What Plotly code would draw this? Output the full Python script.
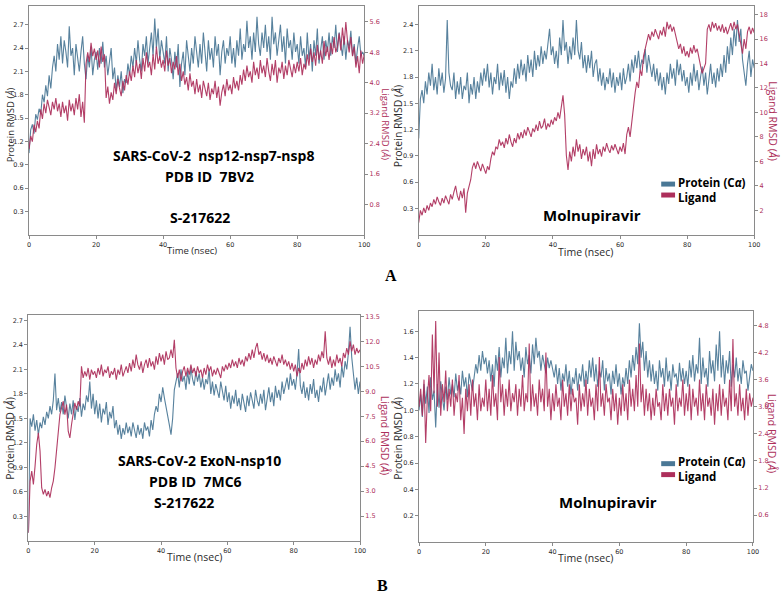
import numpy as np
import plotly.graph_objects as go

# ---------------- data (RMSD traces, 0.5 ns steps) ----------------
p1_protein = [
 1.05,1.35,1.42,1.30,1.55,1.48,1.62,1.55,1.80,1.70,1.92,1.78,2.05,1.88,2.15,2.30,2.10,2.45,2.25,2.55,
 2.20,2.50,2.35,2.15,2.68,2.30,2.40,2.05,2.45,2.25,2.10,2.35,2.55,2.20,2.00,2.30,2.15,2.42,2.05,2.25,
 2.35,2.12,2.40,2.20,2.48,2.15,2.30,2.05,2.25,2.40,2.00,2.15,1.85,2.05,1.90,2.10,1.82,2.00,1.95,2.20,
 2.05,2.30,2.15,2.40,2.20,2.50,2.25,2.10,2.45,2.30,2.55,2.20,2.40,2.60,2.30,2.78,2.40,2.65,2.25,2.50,
 2.35,2.20,2.55,2.10,2.40,2.25,2.00,2.35,2.15,2.45,1.90,2.20,2.35,2.05,2.50,2.25,2.10,2.40,2.20,2.55,
 2.30,2.15,2.45,2.20,2.60,2.35,2.10,2.50,2.25,2.40,2.15,2.55,2.30,2.45,2.05,2.35,2.50,2.20,2.40,2.30,
 2.55,2.20,2.40,2.15,2.50,2.30,2.65,2.25,2.45,2.35,2.75,2.40,2.55,2.25,2.60,2.35,2.80,2.45,2.30,2.60,
 2.40,2.70,2.35,2.55,2.25,2.80,2.45,2.60,2.30,2.50,2.70,2.35,2.55,2.20,2.65,2.40,2.50,2.25,2.60,2.35,
 2.45,2.20,2.55,2.30,2.40,2.15,2.60,2.25,2.45,2.10,2.50,2.30,2.65,2.20,2.40,2.55,2.25,2.50,2.35,2.60,
 2.30,2.55,2.40,2.70,2.35,2.60,2.45,2.30,2.55,2.25,2.50,2.40,2.62,2.30,2.45,2.20,2.40,2.55,2.30,2.35,
 2.30]
p1_ligand = [
 2.25,2.60,2.45,2.90,2.70,3.00,2.80,3.30,3.05,3.45,3.20,3.55,3.35,3.15,3.50,3.30,3.60,3.25,3.45,3.10,
 3.50,3.20,3.40,3.00,3.55,3.25,3.45,3.15,3.60,3.30,3.70,3.10,3.50,2.95,4.50,4.80,4.55,5.05,4.70,4.90,
 4.60,4.85,4.40,4.95,4.55,4.75,3.60,3.90,3.45,3.75,3.55,4.00,3.70,4.10,3.85,3.65,4.05,3.80,4.20,3.95,
 4.30,4.05,4.45,4.15,4.60,4.25,4.50,4.10,4.65,4.30,4.80,4.40,4.55,4.20,4.75,4.35,4.95,4.50,4.70,4.40,
 4.60,4.30,4.85,4.45,4.65,4.25,4.55,4.35,4.70,4.20,4.50,4.05,4.30,3.95,4.15,3.80,4.25,3.90,4.05,3.70,
 4.10,3.75,3.95,3.60,4.05,3.80,3.65,4.00,3.55,3.85,3.70,4.05,3.60,3.90,3.40,3.75,3.95,3.65,4.10,3.80,
 3.95,3.70,4.15,3.85,4.05,3.80,4.20,3.95,4.35,4.05,4.45,4.15,4.30,4.00,4.55,4.20,4.40,4.10,4.60,4.25,
 4.45,4.15,4.65,4.30,4.05,4.50,4.20,4.60,4.00,4.40,4.25,4.55,4.10,4.45,4.20,4.60,4.35,4.15,4.50,4.25,
 4.55,4.30,4.65,4.20,4.50,4.35,4.75,4.45,4.90,4.55,4.80,4.45,5.00,4.60,4.85,4.50,5.10,4.70,4.95,4.60,
 5.05,4.75,5.20,4.80,4.95,5.30,4.85,5.45,5.00,5.60,5.10,4.80,5.20,4.70,4.95,4.40,4.70,4.25,4.85,4.50,
 4.75]
p2_protein = [
 1.10,1.55,1.65,1.50,1.75,1.60,1.85,1.70,1.95,1.65,1.80,1.60,1.90,1.70,1.85,1.62,1.78,2.45,1.85,1.70,
 1.65,1.85,1.55,1.75,1.60,1.80,1.55,1.70,1.65,1.85,1.50,1.72,1.60,1.80,1.55,1.75,1.62,1.85,1.70,1.90,
 1.75,1.95,1.68,1.85,1.60,1.80,1.72,1.95,1.65,1.85,1.70,1.88,1.62,1.80,1.55,1.75,1.68,1.90,1.72,1.95,
 1.78,2.00,1.82,1.95,1.75,2.05,1.85,2.00,1.80,2.10,1.88,2.05,1.92,2.15,1.95,2.10,2.00,2.20,2.35,2.05,
 2.15,1.95,2.10,1.90,2.25,2.05,2.45,2.10,2.20,1.95,2.15,2.00,2.25,2.05,2.45,2.10,2.00,2.20,1.90,2.05,
 1.85,2.05,1.90,2.10,1.80,1.95,2.00,1.75,1.90,1.70,1.85,1.65,1.80,1.72,1.90,1.68,1.85,1.62,1.80,1.70,
 1.85,1.65,1.90,1.72,1.80,1.95,1.75,2.00,1.85,2.05,1.90,2.10,1.88,2.00,1.95,2.12,1.85,2.05,1.90,1.80,
 1.95,1.75,1.90,1.70,1.85,1.65,1.80,1.60,1.85,1.72,1.95,1.78,1.90,1.70,2.00,1.82,1.95,1.75,1.88,1.70,
 1.80,1.62,1.85,1.70,1.95,1.75,1.88,1.65,1.80,1.92,1.70,1.85,1.60,1.78,1.95,1.72,1.85,1.68,1.90,1.75,
 1.95,1.80,2.05,1.85,2.15,1.95,2.25,2.05,2.35,2.15,2.45,2.20,2.35,2.00,1.85,1.70,1.95,2.10,1.80,2.00,
 1.90]
p2_ligand = [
 1.0,2.0,1.6,2.2,1.8,2.4,2.0,2.6,2.3,2.9,2.5,3.1,2.7,2.4,3.0,2.6,3.2,2.8,2.5,3.3,
 2.9,3.5,4.0,3.2,2.8,3.6,3.0,3.8,1.8,3.4,3.9,4.5,5.5,5.9,5.4,6.0,5.6,5.2,5.8,5.4,
 5.0,5.6,5.3,6.2,6.8,6.5,7.2,7.0,7.8,7.3,7.6,7.1,7.9,7.4,8.2,7.6,7.2,7.9,7.5,8.3,
 7.8,8.4,7.9,8.6,8.1,8.8,8.3,8.0,8.7,8.4,9.0,8.5,9.3,8.7,8.9,9.5,8.6,9.1,8.8,9.4,
 9.0,9.6,9.3,10.0,9.5,10.4,11.4,9.8,6.5,5.3,6.8,6.0,7.2,6.4,7.8,6.8,7.4,6.2,7.0,6.5,
 7.2,6.0,6.8,5.6,7.0,6.2,7.4,6.6,7.0,6.4,7.2,6.8,7.5,7.0,6.7,7.3,6.9,7.4,7.0,6.6,
 7.2,6.8,7.5,6.6,8.2,8.8,8.0,9.2,10.8,11.6,12.5,12.0,13.5,13.0,14.6,15.2,15.8,16.4,15.9,16.6,
 16.2,16.8,16.4,16.0,16.7,16.3,17.0,16.2,17.4,16.8,17.2,16.6,17.0,16.4,15.8,15.2,15.6,14.8,15.4,14.6,
 15.0,14.5,15.3,14.8,15.5,14.9,15.2,14.4,13.8,13.2,13.6,14.0,16.8,17.2,16.6,17.4,16.9,17.3,16.7,17.1,
 16.6,17.2,16.5,17.0,16.4,16.9,17.3,16.7,17.4,16.8,17.2,16.4,15.6,14.8,16.0,15.2,16.6,17.0,16.4,16.9,
 16.5]
p3_protein = [
 0.10,1.50,1.40,1.55,1.35,1.48,1.30,1.45,1.38,1.52,1.42,1.58,1.50,1.65,1.55,1.72,2.05,1.60,1.75,1.58,
 1.70,1.55,1.78,1.62,1.50,1.68,1.55,1.72,1.48,1.65,1.58,1.75,1.52,1.68,1.60,1.78,1.70,1.95,1.62,1.80,
 1.55,1.72,1.50,1.68,1.45,1.62,1.55,1.70,1.42,1.58,1.50,1.65,1.38,1.48,1.30,1.42,1.25,1.38,1.30,1.45,
 1.32,1.40,1.28,1.45,1.35,1.26,1.42,1.30,1.38,1.25,1.45,1.35,1.40,1.28,1.48,1.36,1.55,1.65,1.58,1.80,
 1.70,1.88,1.75,1.62,1.55,1.42,1.30,1.50,1.85,1.95,2.05,1.88,2.10,1.95,2.02,1.85,2.08,1.92,2.12,1.98,
 1.90,2.08,1.95,2.05,1.88,2.00,1.85,1.98,1.92,2.10,1.80,1.95,1.78,1.92,1.85,1.75,1.95,1.82,1.72,1.90,
 1.70,1.82,1.62,1.78,1.68,1.85,1.65,1.75,1.60,1.80,1.70,1.58,1.78,1.65,1.82,1.70,1.62,1.85,1.72,1.65,
 1.80,1.68,1.85,1.60,1.75,1.88,1.70,1.82,1.65,1.90,1.75,1.85,1.72,1.95,1.80,1.92,2.00,1.85,2.05,1.90,
 1.98,1.85,2.05,2.35,1.90,1.80,1.95,1.75,1.88,1.72,1.92,1.80,1.98,1.75,1.85,1.70,1.90,1.82,2.00,1.78,
 1.92,2.05,1.85,2.00,1.90,2.10,1.95,2.05,1.88,2.15,2.00,2.20,2.10,2.30,2.62,2.25,2.05,1.85,2.00,1.80,
 1.95]
p3_ligand = [
 0.5,3.6,4.2,3.4,4.5,5.8,6.5,5.4,3.2,2.8,3.1,2.7,3.0,2.6,3.2,3.6,4.4,5.6,6.4,7.6,
 8.0,8.4,7.6,8.2,6.6,6.2,7.0,7.8,8.3,7.9,8.4,8.1,10.5,9.8,10.2,9.9,10.4,9.7,10.3,10.0,
 10.2,9.8,10.4,10.0,10.6,9.9,10.3,10.1,10.5,9.8,10.2,10.0,10.4,9.7,10.3,10.0,10.6,9.9,10.2,10.5,
 10.1,10.7,10.2,10.9,10.4,11.2,10.6,10.3,10.8,10.1,10.6,10.9,10.4,11.0,10.5,10.8,10.3,11.1,10.6,11.3,
 10.8,11.2,10.6,11.4,10.9,11.0,11.5,11.0,12.1,10.4,9.8,10.3,9.6,10.2,10.5,9.9,10.4,10.0,10.6,10.1,
 10.4,9.9,10.5,10.1,10.3,9.8,10.4,10.0,10.6,10.2,10.5,9.9,10.3,10.0,10.4,10.1,9.8,10.5,10.2,10.6,
 10.3,10.7,10.4,10.9,10.5,10.8,10.4,11.0,10.6,10.9,10.5,11.1,10.8,11.3,10.9,11.5,11.0,11.6,11.9,11.2,
 11.4,10.9,11.3,10.8,11.2,10.7,11.0,10.6,11.1,10.8,10.5,11.0,10.7,11.2,10.6,10.9,10.5,10.8,10.3,10.7,
 10.2,10.6,9.9,10.4,10.1,10.7,10.3,10.9,10.5,11.1,10.6,11.0,10.4,10.9,10.6,11.2,10.8,11.4,11.0,12.6,
 11.0,10.6,11.1,10.4,10.9,10.5,11.2,10.7,11.0,10.5,11.3,11.0,11.6,11.2,12.0,11.4,11.8,11.2,11.6,11.3,
 11.5]
p4_protein = [
 1.00,1.12,0.95,1.20,1.05,1.18,0.98,1.25,1.08,1.15,0.87,1.20,1.02,1.22,1.10,1.00,1.18,1.08,1.25,1.12,
 1.20,1.10,1.28,1.15,1.22,1.12,1.30,1.18,1.25,1.10,1.28,1.20,1.15,1.25,1.35,1.28,1.42,1.30,1.45,1.35,
 1.40,1.28,1.38,1.22,1.35,1.18,1.42,1.30,1.48,1.25,1.40,1.32,1.55,1.28,1.45,1.35,1.60,1.30,1.52,1.38,
 1.45,1.30,1.40,1.25,1.48,1.35,1.42,1.28,1.50,1.35,1.55,1.40,1.45,1.30,1.42,1.35,1.28,1.40,1.32,1.38,
 1.30,1.25,1.35,1.20,1.32,1.15,1.28,1.22,1.35,1.18,1.30,1.12,1.25,1.20,1.32,1.15,1.28,1.22,1.35,1.18,
 1.30,1.20,1.38,1.25,1.40,1.22,1.35,1.18,1.30,1.25,1.38,1.15,1.32,1.22,1.28,1.12,1.30,1.20,1.35,1.18,
 1.28,1.12,1.25,1.18,1.32,1.20,1.38,1.25,1.42,1.30,1.48,1.35,1.66,1.40,1.52,1.30,1.45,1.25,1.38,1.22,
 1.35,1.20,1.30,1.15,1.38,1.25,1.32,1.18,1.40,1.22,1.30,1.15,1.35,1.25,1.28,1.18,1.36,1.22,1.32,1.20,
 1.30,1.18,1.38,1.25,1.42,1.22,1.35,1.28,1.55,1.20,1.40,1.25,1.32,1.18,1.45,1.28,1.38,1.22,1.50,1.30,
 1.60,1.25,1.42,1.20,1.38,1.28,1.45,1.18,1.35,1.25,1.40,1.22,1.32,1.20,1.38,1.28,1.30,1.15,1.25,1.35,
 1.30]
p4_ligand = [
 3.00,3.40,2.80,3.60,2.20,3.20,3.70,2.90,4.60,3.30,4.90,3.00,4.20,2.80,3.50,3.10,3.80,2.90,3.40,3.00,
 3.60,2.80,3.30,3.10,3.70,2.70,3.20,2.40,3.40,2.90,3.50,2.80,3.60,3.00,3.30,2.70,3.50,2.90,3.20,3.00,
 3.60,2.90,3.40,2.80,3.70,3.00,3.30,2.70,4.10,3.10,3.50,2.80,3.40,3.00,3.60,2.90,3.30,3.10,3.50,2.80,
 3.40,3.00,3.70,2.90,3.30,3.10,4.40,2.90,3.50,3.00,3.30,2.80,3.60,3.10,3.40,2.90,4.20,3.00,3.40,2.70,
 3.30,2.90,3.50,3.00,3.20,2.70,3.60,3.00,3.30,2.80,3.50,2.90,3.40,3.10,3.20,2.60,3.50,2.90,3.30,3.00,
 3.60,2.80,3.40,3.00,3.20,2.70,3.50,2.90,4.10,3.00,3.30,2.80,3.50,3.10,3.20,2.70,3.40,2.90,3.30,2.60,
 3.20,2.80,3.50,2.90,3.30,2.70,3.60,3.00,3.40,2.90,3.70,3.00,4.40,3.10,3.50,2.80,3.40,2.90,3.30,2.70,
 3.20,2.80,3.40,3.00,3.10,2.70,3.50,2.90,3.30,2.80,3.40,3.00,3.20,2.60,3.50,2.90,3.20,3.00,3.60,2.80,
 3.30,2.90,3.50,2.70,3.40,3.00,3.20,2.80,3.60,2.90,3.30,2.70,3.50,3.00,3.20,2.80,3.40,2.60,3.30,2.90,
 3.50,2.80,3.40,3.00,3.20,2.70,3.60,2.90,4.50,3.00,3.30,2.80,3.50,2.90,3.20,2.70,3.40,2.80,3.30,3.00,
 3.20]

x_ticks = [0, 20, 40, 60, 80, 100]
p1_left_ticks = [0.3, 0.6, 0.9, 1.2, 1.5, 1.8, 2.1, 2.4, 2.7]
p1_right_ticks = [0.8, 1.6, 2.4, 3.2, 4.0, 4.8, 5.6]
p2_left_ticks = [0.3, 0.6, 0.9, 1.2, 1.5, 1.8, 2.1, 2.4]
p2_right_ticks = [2, 4, 6, 8, 10, 12, 14, 16, 18]
p3_left_ticks = [0.3, 0.6, 0.9, 1.2, 1.5, 1.8, 2.1, 2.4, 2.7]
p3_right_ticks = [1.5, 3.0, 4.5, 6.0, 7.5, 9.0, 10.5, 12.0, 13.5]
p4_left_ticks = [0.2, 0.4, 0.6, 0.8, 1.0, 1.2, 1.4, 1.6]
p4_right_ticks = [0.6, 1.2, 1.8, 2.4, 3.0, 3.6, 4.2, 4.8]

BLUE = "#4a7896"
RED = "#ad2f5b"
SPINE = "#8a8a8a"
TXT = "#2b2b2b"
W, H = 784, 596

def tgrid(v):
    return np.linspace(0, 100, len(v))

def fx(px):
    return px / W

def fy(py):
    return 1 - py / H

fig = go.Figure()
panels = [
    ("x", "y", "y2", p1_protein, p1_ligand),
    ("x2", "y3", "y4", p2_protein, p2_ligand),
    ("x3", "y5", "y6", p3_protein, p3_ligand),
    ("x4", "y7", "y8", p4_protein, p4_ligand),
]
for xa, yl, yr, prot, lig in panels:
    fig.add_trace(go.Scatter(x=tgrid(prot), y=prot, xaxis=xa, yaxis=yl, mode="lines",
                             line=dict(color=BLUE, width=1.1), opacity=0.92, showlegend=False,
                             hoverinfo="skip"))
    fig.add_trace(go.Scatter(x=tgrid(lig), y=lig, xaxis=xa, yaxis=yr, mode="lines",
                             line=dict(color=RED, width=1.1), opacity=0.92, showlegend=False,
                             hoverinfo="skip"))

tickfont = dict(family="DejaVu Sans", size=6.5, color=TXT)
rtickfont = dict(family="DejaVu Sans", size=6.5, color=RED)

def xax(x0, x1, anchor):
    return dict(domain=[fx(x0), fx(x1)], anchor=anchor, range=[0, 100], tickvals=x_ticks,
                showgrid=False, zeroline=False, showline=True, mirror=True,
                linecolor=SPINE, linewidth=1.2, ticks="outside", ticklen=3,
                tickcolor=SPINE, tickfont=tickfont)

def ylax(top, bottom, anchor, rng, tv, fmt):
    return dict(domain=[fy(bottom), fy(top)], anchor=anchor, range=rng, tickvals=tv,
                ticktext=[format(v, fmt) for v in tv],
                showgrid=False, zeroline=False, showline=True, mirror=True,
                linecolor=SPINE, linewidth=1.2, ticks="outside", ticklen=3,
                tickcolor=SPINE, tickfont=tickfont)

def yrax(overlay, anchor, rng, tv, fmt):
    return dict(overlaying=overlay, anchor=anchor, side="right", range=rng, tickvals=tv,
                ticktext=[format(v, fmt) for v in tv],
                showgrid=False, zeroline=False, showline=False, ticks="outside",
                ticklen=3, tickcolor=SPINE, tickfont=rtickfont)

fig.update_layout(
    xaxis=xax(27.3, 366, "y"),
    yaxis=ylax(3, 233, "x", [0, 2.94], p1_left_ticks, ".1f"),
    yaxis2=yrax("y", "x", [0, 6.02], p1_right_ticks, ".1f"),
    xaxis2=xax(421, 760, "y3"),
    yaxis3=ylax(3, 233, "x2", [0, 2.61], p2_left_ticks, ".1f"),
    yaxis4=yrax("y3", "x2", [0, 18.7], p2_right_ticks, "d"),
    xaxis3=xax(26.7, 361.7, "y5"),
    yaxis5=ylax(314, 540.7, "x3", [0, 2.76], p3_left_ticks, ".1f"),
    yaxis6=yrax("y5", "x3", [0, 13.56], p3_right_ticks, ".1f"),
    xaxis4=xax(421.3, 758.7, "y7"),
    yaxis7=ylax(310, 542, "x4", [0, 1.75], p4_left_ticks, ".1f"),
    yaxis8=yrax("y7", "x4", [0, 5.11], p4_right_ticks, ".1f"),
)

ann = []
def txt(x, y, s, size, color="black", family="Open Sans", angle=0, xanchor="center",
        yanchor="middle"):
    ann.append(dict(x=fx(x), y=fy(y), xref="paper", yref="paper", text=s, showarrow=False,
                    font=dict(family=family, size=size, color=color), textangle=angle,
                    xanchor=xanchor, yanchor=yanchor, borderpad=0))

prot_title = "Protein RMSD (<i>Å</i>)"
lig_title = "Ligand RMSD (<i>Å</i>)"
# axis titles: (left x, right x, left y, right y, time x, time y, size)
for xl, xr, yl, yr, xt, yt, fs in [(8, 388, 122, 122, 192, 249, 9.5),
                                   (400, 779, 123, 118, 590, 250, 10.5),
                                   (8, 387, 437, 434, 194, 557, 10.5),
                                   (400, 778, 437, 432, 590, 558, 10.5)]:
    txt(xl, yl, prot_title, fs, TXT, angle=-90)
    txt(xr, yr, lig_title, fs, RED, angle=90)
    txt(xt, yt, "Time (nsec)", fs, TXT)

# panel texts
txt(214, 164, "<b>SARS-CoV-2  nsp12-nsp7-nsp8</b>", 14, yanchor="bottom")
txt(210, 164, "<b>PDB ID  7BV2</b>", 14, yanchor="top")
txt(200, 216, "<b>S-217622</b>", 14)
txt(596, 213, "<b>Molnupiravir</b>", 15)
txt(200, 470, "<b>SARS-CoV-2 ExoN-nsp10</b>", 14, yanchor="bottom")
txt(195, 470, "<b>PDB ID  7MC6</b>", 14, yanchor="top")
txt(184, 502, "<b>S-217622</b>", 14)
txt(612, 502, "<b>Molnupiravir</b>", 15)

# legends
for mid in [187.5, 468.5]:
    txt(682, mid + 1, "<b>Protein (C<i>α</i>)</b>", 11.5, xanchor="left", yanchor="bottom")
    txt(682, mid - 1, "<b>Ligand</b>", 11.5, xanchor="left", yanchor="top")

# panel letters
txt(393, 274, "<b>A</b>", 16, family="Liberation Serif")
txt(384, 585, "<b>B</b>", 16, family="Liberation Serif")

shapes = []
for ly, col in [(182, BLUE), (193, RED), (463, BLUE), (474, RED)]:
    shapes.append(dict(type="rect", xref="paper", yref="paper",
                       x0=fx(666), x1=fx(680), y0=fy(ly + 2.5), y1=fy(ly - 2.5),
                       fillcolor=col, line=dict(width=0)))

fig.update_layout(annotations=ann, shapes=shapes, width=W, height=H,
                  margin=dict(l=0, r=0, t=0, b=0), plot_bgcolor="white",
                  paper_bgcolor="white", showlegend=False)

fig.write_html("out.html", config={"displayModeBar": False},
               post_script="document.body.style.margin='0px';document.body.style.overflow='hidden';")
